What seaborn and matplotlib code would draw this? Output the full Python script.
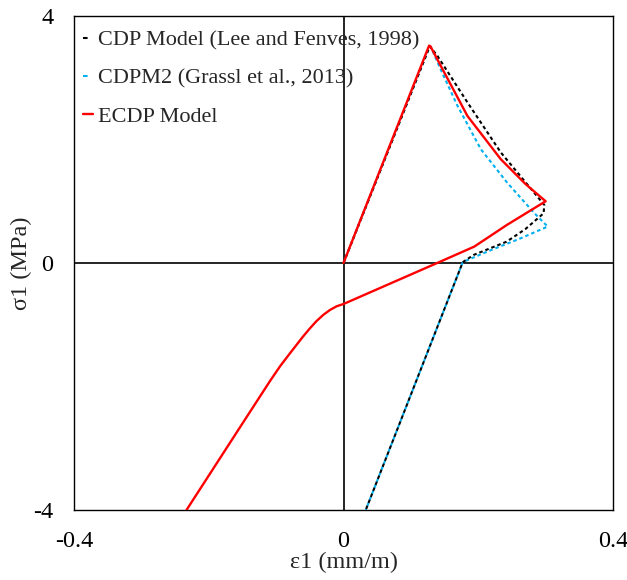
import pandas as pd
import matplotlib
matplotlib.use('Agg')
import matplotlib.pyplot as plt
import seaborn as sns

# strain (mm/m) / stress (MPa) paths
cdp_x = [0.0, 0.128, 0.139, 0.184, 0.2335, 0.298, 0.297, 0.270, 0.242, 0.193, 0.178, 0.1765, 0.033]
cdp_y = [0.0, 3.51, 3.36, 2.60, 1.79, 0.94, 0.805, 0.55, 0.345, 0.13, 0.02, 0.0, -4.0]

cdpm2_x = [0.0, 0.128, 0.132, 0.144, 0.169, 0.204, 0.243, 0.283, 0.303, 0.263, 0.219, 0.178, 0.1765, 0.033]
cdpm2_y = [0.0, 3.51, 3.44, 3.14, 2.55, 1.84, 1.30, 0.81, 0.59, 0.40, 0.21, 0.02, 0.0, -4.0]

ecdp_x = [0.0, 0.127, 0.129, 0.144, 0.184, 0.2335, 0.270, 0.300, 0.243, 0.194, 0.139,
          0.0, -0.010, -0.020, -0.030, -0.040, -0.050, -0.060, -0.070, -0.080, -0.094, -0.109,
          -0.153, -0.233]
ecdp_y = [0.0, 3.52, 3.51, 3.20, 2.38, 1.68, 1.28, 1.00, 0.62, 0.265, 0.0,
          -0.664, -0.70, -0.76, -0.84, -0.94, -1.06, -1.19, -1.33, -1.47, -1.67, -1.91,
          -2.65, -4.0]

labels = ['CDP Model (Lee and Fenves, 1998)', 'CDPM2 (Grassl et al., 2013)', 'ECDP Model']

df_cdp = pd.DataFrame({'x': cdp_x, 'y': cdp_y})
df_cdpm2 = pd.DataFrame({'x': cdpm2_x, 'y': cdpm2_y})
df_ecdp = pd.DataFrame({'x': ecdp_x, 'y': ecdp_y})

sns.set_style('white')
plt.rcParams['font.family'] = ['Liberation Serif', 'DejaVu Serif']

fig = plt.figure(figsize=(6.27, 5.8), dpi=100)
ax = fig.add_axes([0.118, 0.1207, 0.8597, 0.8517])

ax.axhline(0, color='black', lw=1.2, zorder=1)
ax.axvline(0, color='black', lw=1.2, zorder=1)

sns.lineplot(data=df_cdp, x='x', y='y', sort=False, estimator=None, ax=ax,
             color='black', lw=1.5, dashes=(1.7, 1.4), label=labels[0], zorder=4)
sns.lineplot(data=df_cdpm2, x='x', y='y', sort=False, estimator=None, ax=ax,
             color='#00B0F0', lw=1.5, dashes=(1.7, 1.4), label=labels[1], zorder=3)
sns.lineplot(data=df_ecdp, x='x', y='y', sort=False, estimator=None, ax=ax,
             color='#FF0000', lw=1.7, label=labels[2], zorder=5)

ax.set_xlim(-0.4, 0.4)
ax.set_ylim(-4, 4)
ax.set_xticks([-0.4, 0, 0.4])
ax.set_xticklabels(['-0.4', '0', '0.4'])
ax.set_yticks([-4, 0, 4])
ax.set_yticklabels(['-4', '0', '4'])
ax.tick_params(axis='both', length=0, labelsize=17.5, colors='black')
ax.tick_params(axis='x', pad=15)
ax.tick_params(axis='y', pad=15)

ax.set_xlabel('ε1 (mm/m)', fontsize=17.5, labelpad=0)
ax.set_ylabel('σ1 (MPa)', fontsize=17.5, labelpad=1)

for s in ax.spines.values():
    s.set_color('black')
    s.set_linewidth(1.0)

leg = ax.legend(loc='upper left', frameon=False, fontsize=16, handlelength=0.45,
                handletextpad=0.25, labelspacing=0.8, borderaxespad=0.0, borderpad=0.4,
                bbox_to_anchor=(0.0, 0.99))
# a single dash in the short legend handles of the dashed series
for h in leg.get_lines()[:2]:
    h.set_dashes((2.2, 6))

fig.savefig('out.png', dpi=100)
